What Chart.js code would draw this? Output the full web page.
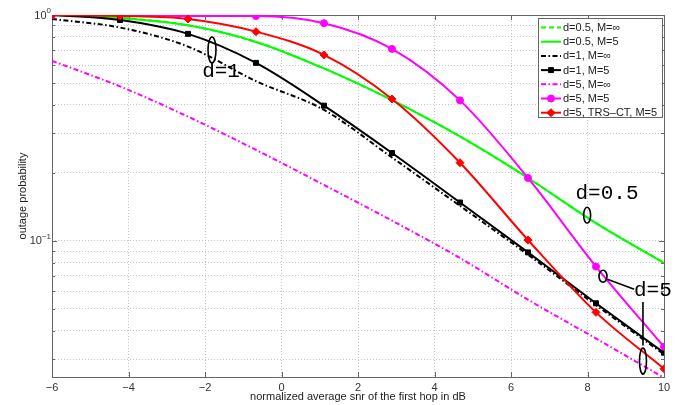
<!DOCTYPE html>
<html>
<head>
<meta charset="utf-8">
<script src="https://cdn.jsdelivr.net/npm/chart.js@4.4.0/dist/chart.umd.min.js"></script>
<style>
  html, body { margin: 0; padding: 0; background: #fff; }
  #wrap { width: 676px; height: 405px; }
</style>
</head>
<body>
<div id="wrap"><canvas id="chart" width="676" height="405"></canvas></div>
<script>
// valeurs (10 points, de -6 a 10 dB)
const snr = [-6, -4.222, -2.444, -0.667, 1.111, 2.889, 4.667, 6.444, 8.222, 10];

const d05Inf = [1.0, 0.97, 0.90, 0.76, 0.58, 0.42, 0.29, 0.19, 0.12, 0.08];
const d05M5  = [1.0, 0.97, 0.90, 0.76, 0.58, 0.42, 0.29, 0.19, 0.12, 0.08];
const d1Inf  = [0.96, 0.88, 0.725, 0.51, 0.38, 0.234, 0.143, 0.087, 0.052, 0.0315];
const d1M5   = [1.0, 0.95, 0.825, 0.614, 0.397, 0.245, 0.148, 0.089, 0.053, 0.032];
const d5Inf  = [0.627, 0.483, 0.355, 0.253, 0.177, 0.123, 0.084, 0.055, 0.037, 0.0248];
const d5M5   = [1.0, 1.0, 0.99, 0.99, 0.92, 0.708, 0.419, 0.19, 0.077, 0.034];
const d5Trs  = [1.0, 0.99, 0.96, 0.844, 0.666, 0.425, 0.222, 0.101, 0.0483, 0.0272];

const seriesNames = ['d=0.5, M=\u221e', 'd=0.5, M=5', 'd=1, M=\u221e', 'd=1, M=5',
                     'd=5, M=\u221e', 'd=5, M=5', 'd=5, TRS\u2013CT, M=5'];

const xTicks = [-6, -4, -2, 0, 2, 4, 6, 8, 10];
const yGrid = [0.03, 0.04, 0.05, 0.06, 0.07, 0.08, 0.09, 0.1,
               0.2, 0.3, 0.4, 0.5, 0.6, 0.7, 0.8, 0.9, 1];
const yLabelValues = [1, 0.1];
const yLabelExps = ['0', '\u22121'];

// annotations (texte + ellipses), en coordonnees des donnees
const notes = [
  { text: 'd=1', x: -1.58, y: 0.563 },
  { text: 'd=0.5', x: 8.51, y: 0.162 },
  { text: 'd=5', x: 9.71, y: 0.0606 }
];
const ovals = [
  { x: -1.817, y: 0.70, rx: 4, ry: 13 },
  { x: 7.99, y: 0.13, rx: 3.5, ry: 8 },
  { x: 8.405, y: 0.0698, rx: 4, ry: 6 },
  { x: 9.45, y: 0.0294, rx: 3.5, ry: 13 }
];
const leaders = [
  { x1: 8.52, y1: 0.0677, x2: 9.22, y2: 0.0612 },
  { x1: 9.45, y1: 0.0537, x2: 9.45, y2: 0.0345 }
];

const toPts = vals => vals.map((v, i) => ({ x: snr[i], y: v }));
const dashDot = [5, 2.5, 1.5, 2.5];

const datasets = [
  { data: toPts(d05Inf), borderColor: '#00ff00', borderDash: [5, 3], pointRadius: 0 },
  { data: toPts(d05M5), borderColor: '#00ff00', pointRadius: 0 },
  { data: toPts(d1Inf), borderColor: '#000000', borderDash: dashDot, pointRadius: 0 },
  { data: toPts(d1M5), borderColor: '#000000', pointStyle: 'rect', pointRadius: 3.5 },
  { data: toPts(d5Inf), borderColor: '#ff00ff', borderDash: dashDot, pointRadius: 0 },
  { data: toPts(d5M5), borderColor: '#ff00ff', pointStyle: 'circle', pointRadius: 3.5 },
  { data: toPts(d5Trs), borderColor: '#ff0000', pointStyle: 'rectRot', pointRadius: 4 }
].map((ds, i, all) => Object.assign({
  label: seriesNames[i],
  borderWidth: 2,
  pointBackgroundColor: ds.borderColor,
  pointBorderColor: ds.borderColor,
  pointBorderWidth: 1,
  fill: false,
  order: all.length - 1 - i
}, ds));

Chart.defaults.font.family = "'Liberation Sans', Arial, sans-serif";
Chart.defaults.font.size = 11;
Chart.defaults.color = '#222';

// cadre + graduations interieures facon matlab
const frame = {
  id: 'frame',
  beforeDatasetsDraw(chart) {
    const { ctx, chartArea: a, scales: { x, y } } = chart;
    ctx.save();
    ctx.strokeStyle = '#666';
    ctx.lineWidth = 1;
    ctx.setLineDash([]);
    ctx.strokeRect(a.left + 0.5, a.top + 0.5, a.right - a.left, a.bottom - a.top);
    ctx.beginPath();
    xTicks.forEach(v => {
      const px = Math.round(x.getPixelForValue(v)) + 0.5;
      ctx.moveTo(px, a.bottom); ctx.lineTo(px, a.bottom - 5);
      ctx.moveTo(px, a.top); ctx.lineTo(px, a.top + 5);
    });
    yGrid.forEach(v => {
      const py = Math.round(y.getPixelForValue(v)) + 0.5;
      const len = yLabelValues.includes(v) ? 5 : 3;
      ctx.moveTo(a.left, py); ctx.lineTo(a.left + len, py);
      ctx.moveTo(a.right, py); ctx.lineTo(a.right - len, py);
    });
    ctx.stroke();
    ctx.restore();
  },
  afterDraw(chart) {
    // etiquettes 10^n de l'axe y
    const { ctx, chartArea: a, scales: { y } } = chart;
    ctx.save();
    ctx.fillStyle = '#333';
    ctx.textBaseline = 'middle';
    yLabelValues.forEach((v, i) => {
      const py = y.getPixelForValue(v);
      ctx.font = "8px 'Liberation Sans', Arial, sans-serif";
      const supW = ctx.measureText(yLabelExps[i]).width;
      const right = a.left - 1;
      ctx.textAlign = 'right';
      ctx.fillText(yLabelExps[i], right, py - 4);
      ctx.font = "11px 'Liberation Sans', Arial, sans-serif";
      ctx.fillText('10', right - supW, py + 0.5);
    });
    ctx.restore();
  }
};

const notesPlugin = {
  id: 'notes',
  afterDatasetsDraw(chart) {
    const { ctx, scales: { x, y } } = chart;
    ctx.save();
    ctx.strokeStyle = '#000';
    ctx.lineWidth = 1.6;
    ctx.setLineDash([]);
    ovals.forEach(o => {
      ctx.beginPath();
      ctx.ellipse(x.getPixelForValue(o.x), y.getPixelForValue(o.y), o.rx, o.ry, 0, 0, Math.PI * 2);
      ctx.stroke();
    });
    leaders.forEach(l => {
      ctx.beginPath();
      ctx.moveTo(x.getPixelForValue(l.x1), y.getPixelForValue(l.y1));
      ctx.lineTo(x.getPixelForValue(l.x2), y.getPixelForValue(l.y2));
      ctx.stroke();
    });
    ctx.fillStyle = '#000';
    ctx.font = "21px 'Liberation Mono', 'DejaVu Sans Mono', monospace";
    ctx.textAlign = 'center';
    ctx.textBaseline = 'middle';
    notes.forEach(n => ctx.fillText(n.text, x.getPixelForValue(n.x), y.getPixelForValue(n.y)));
    ctx.restore();
  }
};

const legendBox = {
  id: 'legendBox',
  afterDraw(chart) {
    const { ctx } = chart;
    const sets = chart.data.datasets;
    const left = 538, top = 18, w = 124, rowH = 14.2;
    const h = 99;
    ctx.save();
    ctx.fillStyle = '#fff';
    ctx.fillRect(left, top, w, h);
    ctx.strokeStyle = '#666';
    ctx.lineWidth = 1;
    ctx.strokeRect(left + 0.5, top + 0.5, w, h);
    sets.forEach((ds, i) => {
      const cy = top + 9.5 + i * rowH;
      ctx.strokeStyle = ds.borderColor;
      ctx.lineWidth = ds.borderWidth;
      ctx.setLineDash(ds.borderDash || []);
      ctx.beginPath();
      ctx.moveTo(left + 3, cy);
      ctx.lineTo(left + 23, cy);
      ctx.stroke();
      ctx.setLineDash([]);
      if (ds.pointRadius > 0) {
        ctx.fillStyle = ds.pointBackgroundColor;
        ctx.lineWidth = 1;
        Chart.helpers.drawPoint(ctx, { pointStyle: ds.pointStyle, radius: ds.pointRadius, borderWidth: 1, rotation: 0 }, left + 13, cy);
      }
      ctx.fillStyle = '#222';
      ctx.font = "11px 'Liberation Sans', Arial, sans-serif";
      ctx.textAlign = 'left';
      ctx.textBaseline = 'middle';
      ctx.fillText(ds.label, left + 25, cy + 0.5);
    });
    ctx.restore();
  }
};

new Chart(document.getElementById('chart'), {
  type: 'line',
  data: { datasets },
  plugins: [frame, notesPlugin, legendBox],
  options: {
    responsive: false,
    animation: false,
    devicePixelRatio: 1,
    layout: { padding: { top: 15, right: 12, left: 0, bottom: 0 } },
    elements: { line: { cubicInterpolationMode: 'monotone' } },
    plugins: { legend: { display: false }, tooltip: { enabled: false } },
    scales: {
      x: {
        type: 'linear',
        min: -6,
        max: 10,
        afterBuildTicks: s => { s.ticks = xTicks.map(v => ({ value: v })); },
        afterFit: s => { s.height = 28; },
        ticks: {
          color: '#333',
          padding: 4,
          maxRotation: 0,
          callback: v => (v < 0 ? '\u2212' + Math.abs(v) : String(v))
        },
        grid: { color: '#c4c4c4', lineWidth: 1, drawTicks: false },
        border: { display: false, dash: [1, 2] },
        title: {
          display: true,
          text: 'normalized average snr of the first hop in dB',
          color: '#222',
          padding: { top: 0, bottom: 1.5 }
        }
      },
      y: {
        type: 'logarithmic',
        min: 0.025,
        max: 1,
        afterBuildTicks: s => { s.ticks = yGrid.map(v => ({ value: v })); },
        afterFit: s => { s.width = 52; },
        ticks: { display: false },
        grid: { color: '#c4c4c4', lineWidth: 1, drawTicks: false },
        border: { display: false, dash: [1, 2] },
        title: {
          display: true,
          text: 'outage probability',
          color: '#222',
          padding: { top: 16.4, bottom: 0 }
        }
      }
    }
  }
});
</script>
</body>
</html>
